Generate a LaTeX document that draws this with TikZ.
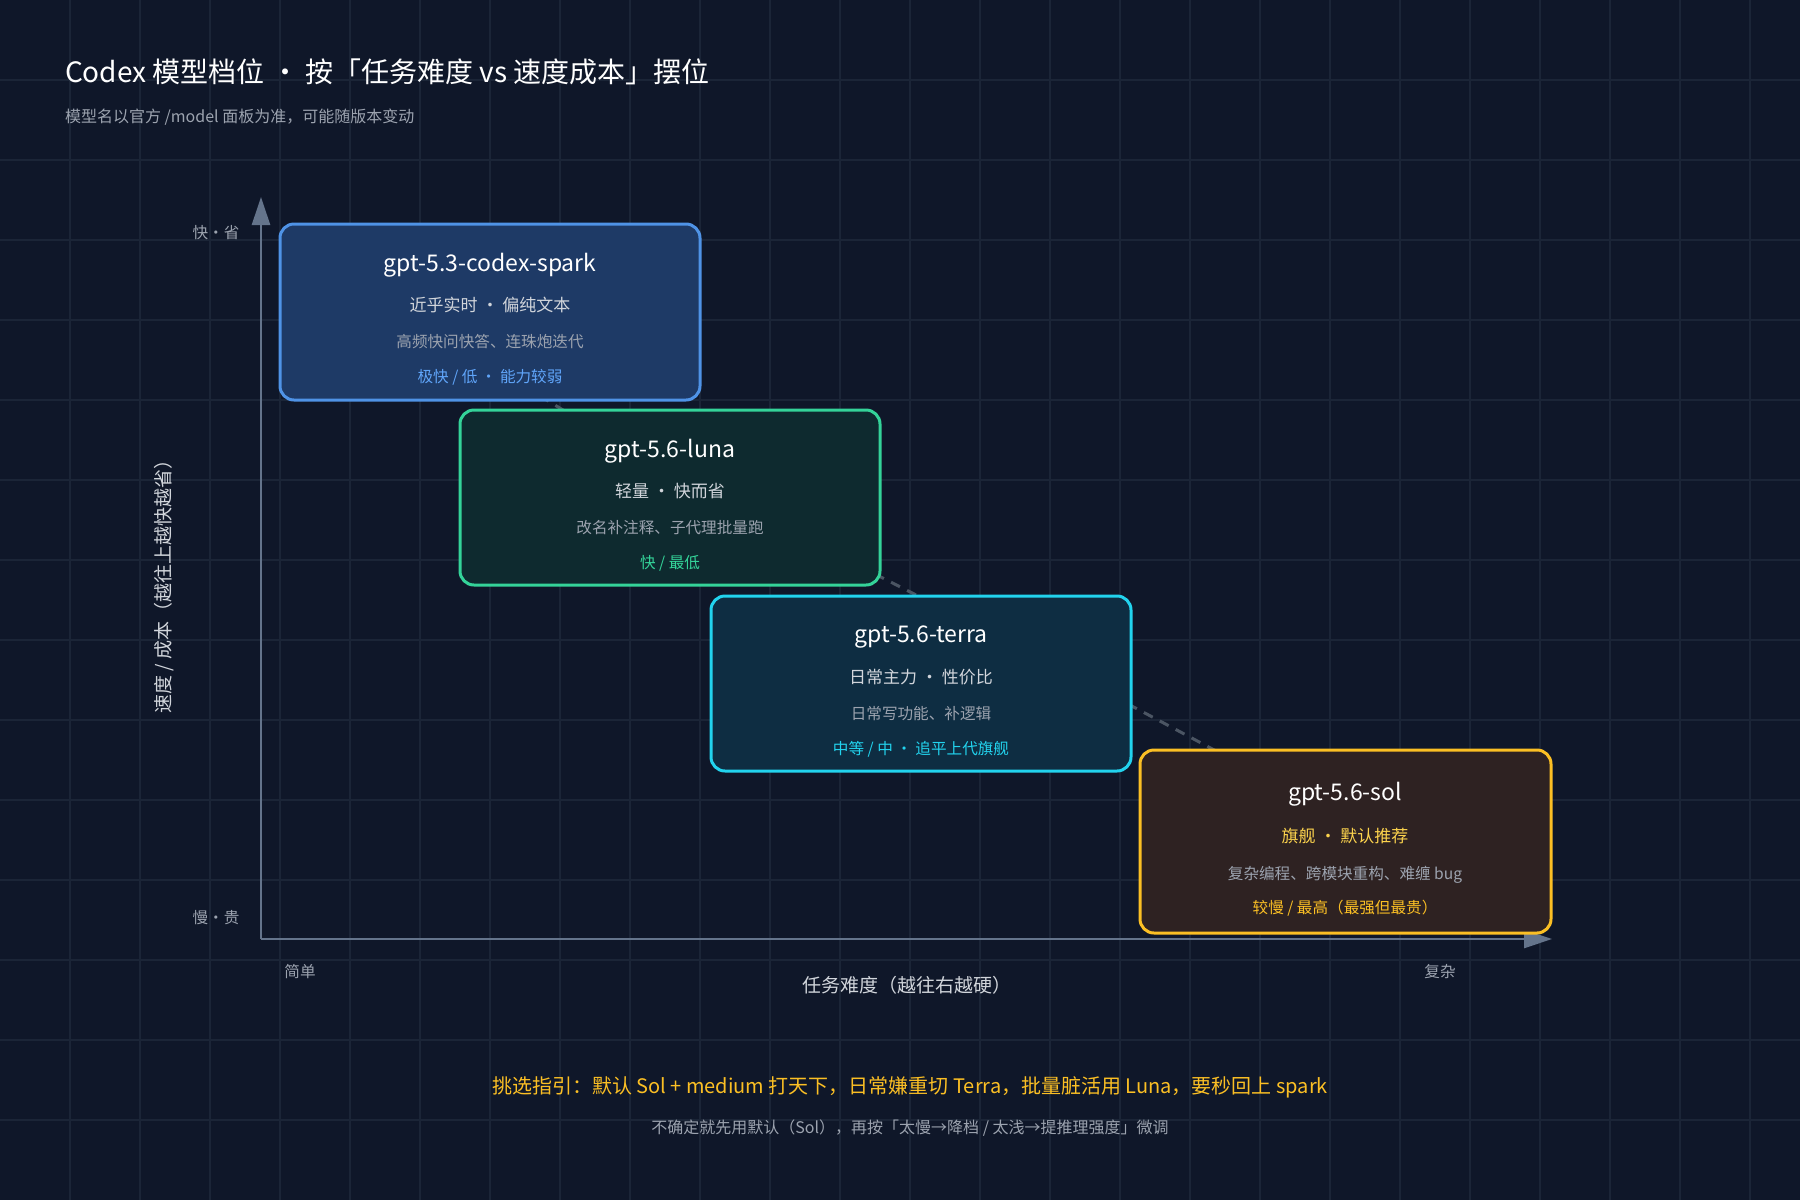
\documentclass[tikz,border=0pt]{standalone}
\usepackage{fontspec}
\setmainfont{Noto Sans CJK SC}
\usetikzlibrary{arrows.meta}
\definecolor{bg}{HTML}{0F1729}
\definecolor{gridc}{HTML}{1B2537}
\definecolor{axis}{HTML}{64748B}
\definecolor{lbl}{HTML}{9CA3AF}
\definecolor{sub}{HTML}{D1D5DB}
\definecolor{dash}{HTML}{4B5563}
\definecolor{bB}{HTML}{4F93E6}\definecolor{fB}{HTML}{1E3A66}\definecolor{aB}{HTML}{60A5FA}
\definecolor{bG}{HTML}{34D399}\definecolor{fG}{HTML}{0E2A2F}\definecolor{aG}{HTML}{34D399}
\definecolor{bC}{HTML}{22D3EE}\definecolor{fC}{HTML}{0E2D42}\definecolor{aC}{HTML}{22D3EE}
\definecolor{bY}{HTML}{FBBF24}\definecolor{fY}{HTML}{2E2222}\definecolor{aY}{HTML}{FBBF24}
\definecolor{sY}{HTML}{FCD34D}
\begin{document}
\begin{tikzpicture}[x=0.5pt,y=-0.5pt,
  box/.style={draw,line width=1.5pt,rounded corners=7pt},
  ttl/.style={text=white,font=\fontsize{11.5}{13}\selectfont},
  l2/.style={text=sub,font=\fontsize{8.5}{10}\selectfont},
  l3/.style={text=lbl,font=\fontsize{7.8}{9}\selectfont},
  l4/.style={font=\fontsize{7.8}{9}\selectfont},
  ax/.style={text=lbl,font=\fontsize{7.8}{9}\selectfont},
  dl/.style={draw=dash,line width=1.5pt,dash pattern=on 5pt off 4pt}]
\useasboundingbox (0,0) rectangle (1800,1200);
\fill[bg] (0,0) rectangle (1800,1200);
\foreach \i in {1,...,25} \draw[gridc,line width=0.6pt] (\i*70,0) -- (\i*70,1200);
\foreach \j in {1,...,14} \draw[gridc,line width=0.6pt] (0,\j*80) -- (1800,\j*80);
% title
\node[anchor=west,text=white,font=\fontsize{14}{16}\selectfont] (title) at (58,72) {Codex 模型档位 · 按「任务难度 vs 速度成本」摆位};
\node[anchor=west,text=lbl,font=\fontsize{8}{10}\selectfont] (subt) at (58,117) {模型名以官方 /model 面板为准，可能随版本变动};
% axes
\coordinate (o) at (261,939);
\coordinate (yt) at (261,197);
\coordinate (xt) at (1552,939);
\draw[axis,line width=1.3pt,-{Triangle[length=14pt,width=9pt]}] (o) -- (yt);
\draw[axis,line width=1.3pt,-{Triangle[length=14pt,width=9pt]}] (o) -- (xt);
\node[ax] (fast) at (216,233) {快·省};
\node[ax] (slow) at (216,918) {慢·贵};
\node[ax] (easy) at (300,972) {简单};
\node[ax] (hard) at (1440,972) {复杂};
\node[text=sub,font=\fontsize{9.5}{11}\selectfont] (xl) at (907,985) {任务难度（越往右越硬）};
\node[text=sub,font=\fontsize{9.5}{11}\selectfont,rotate=90] (yl) at (164,582) {速度 / 成本（越往上越快越省）};
% dashed links
\coordinate (d1a) at (540,396); \coordinate (d1b) at (568,413);
\coordinate (d2a) at (875,574); \coordinate (d2b) at (922,598);
\coordinate (d3a) at (1128,704); \coordinate (d3b) at (1218,752);
\draw[dl] (d1a) -- (d1b);
\draw[dl] (d2a) -- (d2b);
\draw[dl] (d3a) -- (d3b);
% boxes
\draw[box,draw=bB,fill=fB] (280,224) rectangle (700,400);
\node[ttl] (t1) at (490,265) {gpt-5.3-codex-spark};
\node[l2] (s1) at (490,305) {近乎实时 · 偏纯文本};
\node[l3] (u1) at (490,342) {高频快问快答、连珠炮迭代};
\node[l4,text=aB] (c1) at (490,377) {极快 / 低 · 能力较弱};
\draw[box,draw=bG,fill=fG] (460,410) rectangle (880,585);
\node[ttl] (t2) at (670,451) {gpt-5.6-luna};
\node[l2] (s2) at (670,491) {轻量 · 快而省};
\node[l3] (u2) at (670,528) {改名补注释、子代理批量跑};
\node[l4,text=aG] (c2) at (670,563) {快 / 最低};
\draw[box,draw=bC,fill=fC] (711,596) rectangle (1131,771);
\node[ttl] (t3) at (921,637) {gpt-5.6-terra};
\node[l2] (s3) at (921,677) {日常主力 · 性价比};
\node[l3] (u3) at (921,714) {日常写功能、补逻辑};
\node[l4,text=aC] (c3) at (921,749) {中等 / 中 · 追平上代旗舰};
\draw[box,draw=bY,fill=fY] (1140,750) rectangle (1551,933);
\node[ttl] (t4) at (1345,794) {gpt-5.6-sol};
\node[l2,text=sY] (s4) at (1345,836) {旗舰 · 默认推荐};
\node[l3] (u4) at (1345,875) {复杂编程、跨模块重构、难缠 bug};
\node[l4,text=aY] (c4) at (1345,908) {较慢 / 最高（最强但最贵）};
% bottom
\node[text=aY,font=\fontsize{10}{12}\selectfont] (g1) at (910,1087) {挑选指引：默认 Sol + medium 打天下，日常嫌重切 Terra，批量脏活用 Luna，要秒回上 spark};
\node[text=lbl,font=\fontsize{8}{10}\selectfont] (g2) at (910,1128) {不确定就先用默认（Sol），再按「太慢→降档 / 太浅→提推理强度」微调};
\end{tikzpicture}
\end{document}
